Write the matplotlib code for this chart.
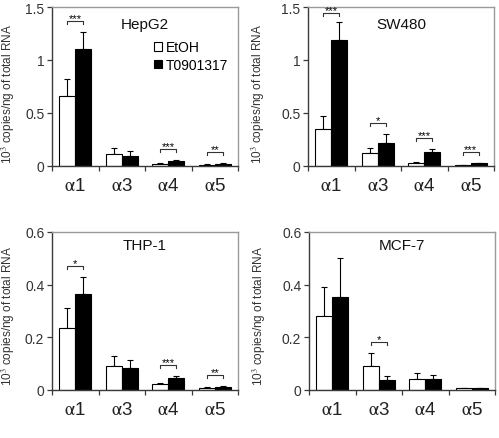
import matplotlib
matplotlib.use("Agg")
import matplotlib.pyplot as plt
from matplotlib.patches import Patch
import numpy as np

plt.rcParams['font.family'] = ['Liberation Sans', 'DejaVu Sans']
plt.rcParams['mathtext.fontset'] = 'stix'

categories = [r"$\mathrm{\alpha}$1", r"$\mathrm{\alpha}$3", r"$\mathrm{\alpha}$4", r"$\mathrm{\alpha}$5"]
series_names = ["EtOH", "T0901317"]
panel_titles = ["HepG2", "SW480", "THP-1", "MCF-7"]

# HepG2
hepg2_etoh = [0.66, 0.11, 0.022, 0.013]
hepg2_etoh_err = [0.16, 0.06, 0.008, 0.004]
hepg2_t09 = [1.10, 0.095, 0.044, 0.022]
hepg2_t09_err = [0.16, 0.045, 0.008, 0.005]
hepg2_sig = ["***", "", "***", "**"]

# SW480
sw480_etoh = [0.35, 0.12, 0.03, 0.008]
sw480_etoh_err = [0.125, 0.054, 0.006, 0.002]
sw480_t09 = [1.19, 0.215, 0.133, 0.025]
sw480_t09_err = [0.17, 0.085, 0.025, 0.005]
sw480_sig = ["***", "*", "***", "***"]

# THP-1
thp1_etoh = [0.235, 0.091, 0.024, 0.0076]
thp1_etoh_err = [0.077, 0.038, 0.004, 0.002]
thp1_t09 = [0.365, 0.085, 0.0445, 0.0127]
thp1_t09_err = [0.063, 0.028, 0.008, 0.003]
thp1_sig = ["*", "", "***", "**"]

# MCF-7
mcf7_etoh = [0.282, 0.0915, 0.043, 0.0064]
mcf7_etoh_err = [0.108, 0.05, 0.021, 0.001]
mcf7_t09 = [0.352, 0.038, 0.043, 0.0076]
mcf7_t09_err = [0.148, 0.015, 0.013, 0.001]
mcf7_sig = ["", "*", "", ""]

ymax_top = 1.5
yticks_top = [0, 0.5, 1, 1.5]
yticklabels_top = ["0", "0.5", "1", "1.5"]
ymax_bottom = 0.6
yticks_bottom = [0, 0.2, 0.4, 0.6]
yticklabels_bottom = ["0", "0.2", "0.4", "0.6"]

ylabel_text = r"10$^3$ copies/ng of total RNA"

panels = [
    (hepg2_etoh, hepg2_etoh_err, hepg2_t09, hepg2_t09_err, hepg2_sig, ymax_top, yticks_top, yticklabels_top),
    (sw480_etoh, sw480_etoh_err, sw480_t09, sw480_t09_err, sw480_sig, ymax_top, yticks_top, yticklabels_top),
    (thp1_etoh, thp1_etoh_err, thp1_t09, thp1_t09_err, thp1_sig, ymax_bottom, yticks_bottom, yticklabels_bottom),
    (mcf7_etoh, mcf7_etoh_err, mcf7_t09, mcf7_t09_err, mcf7_sig, ymax_bottom, yticks_bottom, yticklabels_bottom),
]

W, H = 499, 439
fig = plt.figure(figsize=(W / 100, H / 100), dpi=100)

# axes rectangles in pixels: (left, top, right, bottom)
rects = [(52, 8, 238, 167), (308, 8, 494, 167), (52, 233, 238, 391), (309, 233, 495, 391)]
ylabel_x = [-0.19, -0.22, -0.19, -0.22]
ylabel_y = [0.46, 0.46, 0.475, 0.475]
title_y = [0.89, 0.89, 0.92, 0.92]

axis_color = '#3a3a3a'
box_color = '#9a9a9a'
w = 0.34

for k, (etoh, etoh_err, t09, t09_err, sig, ymax, yt, ytl) in enumerate(panels):
    l, t, r, b = rects[k]
    ax = fig.add_axes([l / W, 1 - b / H, (r - l) / W, (b - t) / H])
    x = np.arange(len(categories))
    ax.bar(x - w / 2, etoh, w, color='white', edgecolor='black', linewidth=0.8, zorder=2)
    ax.bar(x + w / 2, t09, w, color='black', edgecolor='black', linewidth=0.8, zorder=2)
    ax.errorbar(x - w / 2, etoh, yerr=[np.zeros(len(etoh)), etoh_err], fmt='none',
                ecolor='black', elinewidth=0.8, capsize=2.5, capthick=0.8, zorder=1)
    ax.errorbar(x + w / 2, t09, yerr=[np.zeros(len(t09)), t09_err], fmt='none',
                ecolor='black', elinewidth=0.8, capsize=2.5, capthick=0.8, zorder=1)

    # significance brackets
    for i, s in enumerate(sig):
        if not s:
            continue
        top = max(etoh[i] + etoh_err[i], t09[i] + t09_err[i])
        yb = min(top + 0.07 * ymax, 0.96 * ymax)
        dy = 0.018 * ymax
        ax.plot([i - w / 2, i - w / 2, i + w / 2, i + w / 2], [yb - dy, yb, yb, yb - dy],
                color='#333333', linewidth=0.8, zorder=3)
        ax.annotate(s, (i, yb), xytext=(0, -1.5), textcoords='offset points',
                    ha='center', va='bottom', fontsize=8, color='black')

    ax.set_xlim(-0.5, 3.5)
    ax.set_ylim(0, ymax)
    ax.set_xticks(x)
    ax.set_xticklabels(categories, fontsize=13.5, color='#222222')
    ax.set_xticks(np.arange(-0.5, 4.0, 1.0), minor=True)
    ax.tick_params(axis='x', which='major', length=0, pad=8)
    ax.tick_params(axis='x', which='minor', length=3.5, direction='out', color=axis_color, width=0.9)
    ax.set_yticks(yt)
    ax.set_yticklabels(ytl, fontsize=10, color='#333333')
    ax.tick_params(axis='y', length=3.5, direction='out', color=axis_color, width=0.9, pad=2)

    for side in ['left', 'bottom']:
        ax.spines[side].set_color(axis_color)
        ax.spines[side].set_linewidth(1.0)
    for side in ['top', 'right']:
        ax.spines[side].set_color(box_color)
        ax.spines[side].set_linewidth(1.0)

    ax.set_ylabel(ylabel_text, fontsize=8.5, color='#333333')
    ax.yaxis.set_label_coords(ylabel_x[k], ylabel_y[k])
    ax.text(0.5, title_y[k], panel_titles[k], transform=ax.transAxes, ha='center', va='center',
            fontsize=11, color='#111111')

    if k == 0:
        handles = [Patch(facecolor='white', edgecolor='black', linewidth=0.8),
                   Patch(facecolor='black', edgecolor='black', linewidth=0.8)]
        ax.legend(handles, series_names, loc='upper left', bbox_to_anchor=(0.55, 0.79),
                  frameon=False, fontsize=10, handlelength=0.55, handleheight=0.55,
                  handletextpad=0.25, labelspacing=0.25, borderpad=0, borderaxespad=0)

fig.savefig("out.png", dpi=100, facecolor='white')
